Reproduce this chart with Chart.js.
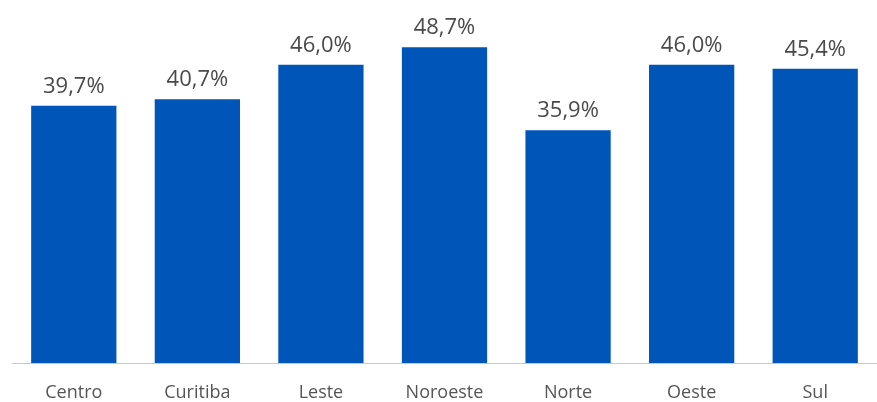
<!DOCTYPE html>
<html>
<head>
<meta charset="utf-8">
<script src="https://cdn.jsdelivr.net/npm/chart.js@4/dist/chart.umd.min.js"></script>
<style>
  html, body { margin: 0; padding: 0; background: #fff; }
  #wrap { width: 877px; height: 402px; position: relative; }
</style>
</head>
<body>
<div id="wrap"><canvas id="c"></canvas></div>
<script>
// regions and share values (%)
var regions = ["Centro", "Curitiba", "Leste", "Noroeste", "Norte", "Oeste", "Sul"];
var shares = [39.7, 40.7, 46.0, 48.7, 35.9, 46.0, 45.4];

var barColor = "#0056b8";

// value labels over each bar, comma decimal like the original
var valueLabels = {
    id: "valueLabels",
    afterDatasetsDraw: function (chart) {
        var ctx = chart.ctx, meta = chart.getDatasetMeta(0);
        ctx.save();
        ctx.font = "22px 'Open Sans', sans-serif";
        ctx.fillStyle = "#4a4a4a";
        ctx.textAlign = "center";
        ctx.textBaseline = "alphabetic";
        meta.data.forEach(function (bar, i) {
            var txt = shares[i].toFixed(1).replace(".", ",") + "%";
            ctx.fillText(txt, bar.x, bar.y - 13);
        });
        ctx.restore();
    }
};

new Chart(document.getElementById("c"), {
    type: "bar",
    data: {
        labels: regions,
        datasets: [{
            data: shares,
            backgroundColor: barColor,
            categoryPercentage: 0.69,
            barPercentage: 1
        }]
    },
    options: {
        responsive: true,
        maintainAspectRatio: false,
        animation: false,
        layout: { padding: { left: 12, right: 0, top: 0, bottom: 0 } },
        plugins: { legend: { display: false }, tooltip: { enabled: false } },
        scales: {
            x: {
                grid: { display: false, drawTicks: false, tickLength: 0 },
                border: { display: true, color: "#c8c8c8", dash: [2, 2], width: 1 },
                ticks: {
                    color: "#555",
                    font: { family: "'Open Sans', sans-serif", size: 18 },
                    padding: 19
                },
                afterFit: function (scale) { scale.height = 39; }
            },
            y: {
                display: false,
                min: 0,
                max: 56
            }
        }
    },
    plugins: [valueLabels]
});
</script>
</body>
</html>
